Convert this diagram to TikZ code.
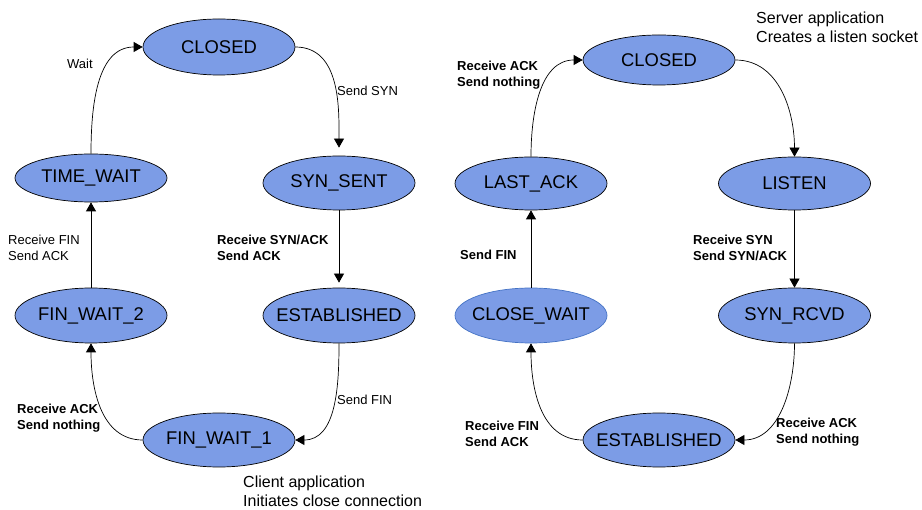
\documentclass[tikz,border=0pt]{standalone}
\usepackage{fontspec}
\setmainfont{Liberation Sans}
\usetikzlibrary{arrows.meta,shapes.geometric}
\definecolor{stfill}{RGB}{124,156,230}
\definecolor{stblue}{RGB}{68,114,196}
\tikzset{
  st/.style={ellipse, draw=black, line width=0.7pt, fill=stfill, inner xsep=-25pt, inner ysep=0pt,
    minimum width=152pt, minimum height=54pt, font=\fontsize{18.4}{20}\selectfont},
  arr/.style={-{Triangle[length=9pt,width=10pt]}, line width=0.7pt},
  lbl/.style={anchor=west, inner sep=0pt, align=left, font=\fontsize{13}{16}\selectfont},
  blbl/.style={lbl, font=\fontsize{13}{16}\selectfont\bfseries},
  note/.style={anchor=west, inner sep=0pt, align=left, font=\fontsize{16}{19}\selectfont}
}
\begin{document}
\begin{tikzpicture}[x=1pt,y=-1pt]
\useasboundingbox (0,0) rectangle (922,510);
% left
\node[st, minimum height=56pt] (c1) at (219,47) {CLOSED};
\node[st, minimum height=48pt] (tw) at (91,178) {TIME\_WAIT};
\node[st] (ss) at (339,183) {SYN\_SENT};
\node[st, minimum height=55pt] (fw2) at (91,315.5) {FIN\_WAIT\_2};
\node[st, minimum height=55pt] (es1) at (339,315.5) {ESTABLISHED};
\node[st] (fw1) at (219,440) {FIN\_WAIT\_1};
% right
\node[st, minimum height=50pt] (c2) at (659,60) {CLOSED};
\node[st, minimum height=53pt] (la) at (531,183.5) {LAST\_ACK};
\node[st, minimum height=53pt] (li) at (794.5,183.5) {LISTEN};
\node[st, minimum height=55pt, draw=stblue] (cw) at (531,315.5) {CLOSE\_WAIT};
\node[st, minimum height=55pt] (sr) at (794.5,315.5) {SYN\_RCVD};
\node[st] (es2) at (659,440) {ESTABLISHED};
% left arrows
\draw[arr] (tw.north) to[out=90,in=180] (c1.west);
\draw[arr, shorten >=8pt] (c1.east) to[out=0,in=90] (ss.north);
\draw[arr, shorten >=5pt] (ss.south) -- (es1.north);
\draw[arr] (es1.south) to[out=-90,in=0] (fw1.east);
\draw[arr] (fw1.west) to[out=180,in=-90] (fw2.south);
\draw[arr] (fw2.north) -- (tw.south);
% right arrows
\draw[arr] (la.north) to[out=90,in=180] (c2.west);
\draw[arr] (c2.east) to[out=0,in=90] (li.north);
\draw[arr] (li.south) -- (sr.north);
\draw[arr] (sr.south) to[out=-90,in=0] (es2.east);
\draw[arr] (es2.west) to[out=180,in=-90] (cw.south);
\draw[arr] (cw.north) -- (la.south);
% left labels
\node[lbl] (lwait) at (67,64) {Wait};
\node[lbl] (lsyn) at (337,91) {Send SYN};
\node[lbl] (lrf) at (8,248) {Receive FIN\\Send ACK};
\node[blbl] (lrsa) at (217,248) {Receive SYN/ACK\\Send ACK};
\node[lbl] (lsf) at (337,400) {Send FIN};
\node[blbl] (lra) at (17,418) {Receive ACK\\Send nothing};
\node[note] (lcl) at (243,491.5) {Client application\\Initiates close connection};
% right labels
\node[note] (rsv) at (756,27.5) {Server application\\Creates a listen socket};
\node[blbl] (rra) at (457,75) {Receive ACK\\Send nothing};
\node[blbl] (rrs) at (693,248) {Receive SYN\\Send SYN/ACK};
\node[blbl] (rsf) at (460,255) {Send FIN};
\node[blbl] (rrf) at (465,434) {Receive FIN\\Send ACK};
\node[blbl] (rra2) at (776,432.5) {Receive ACK\\Send nothing};
\end{tikzpicture}
\end{document}
